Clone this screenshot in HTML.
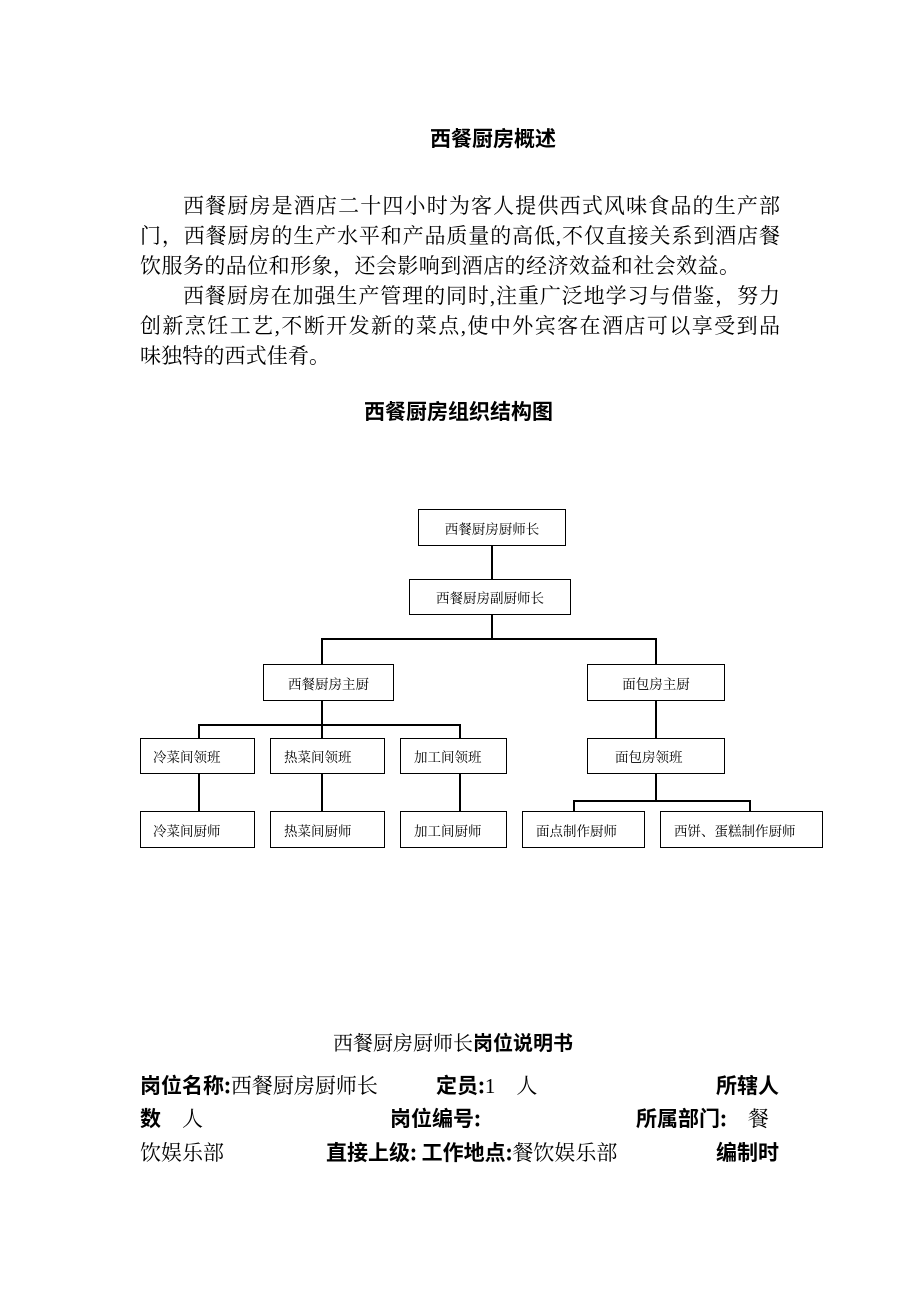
<!DOCTYPE html>
<html><head><meta charset="utf-8"><style>
body{margin:0;background:#fff;width:920px;height:1302px;position:relative;font-family:"Liberation Serif","Noto Serif CJK SC",serif;color:#000}
.t{position:absolute;white-space:nowrap}
.j{position:absolute;left:140px;width:640px;font-size:21px;text-align:justify;text-align-last:justify;white-space:nowrap;line-height:30px}
.b{position:absolute;border:1.5px solid #000;box-sizing:border-box;font-size:13.5px;display:flex;align-items:center;justify-content:center;background:#fff}
.l{position:absolute;background:#000}
.h{font-weight:bold;font-family:"Noto Sans CJK SC",sans-serif}
</style></head><body>
<div class="t h" style="left:430px;top:123px;font-size:21px">西餐厨房概述</div>
<div class="j" style="top:191px;left:183px;width:597px">西餐厨房是酒店二十四小时为客人提供西式风味食品的生产部</div>
<div class="j" style="top:221px">门，西餐厨房的生产水平和产品质量的高低,不仅直接关系到酒店餐</div>
<div class="j" style="top:251px;width:600px">饮服务的品位和形象，还会影响到酒店的经济效益和社会效益。</div>
<div class="j" style="top:281px;left:183px;width:597px">西餐厨房在加强生产管理的同时,注重广泛地学习与借鉴，努力</div>
<div class="j" style="top:311px">创新烹饪工艺,不断开发新的菜点,使中外宾客在酒店可以享受到品</div>
<div class="j" style="top:341px;width:190px">味独特的西式佳肴。</div>
<div class="t h" style="left:364px;top:396px;font-size:21px">西餐厨房组织结构图</div>

<div class="l" style="left:491px;top:546px;width:1.5px;height:33px"></div>
<div class="l" style="left:491px;top:615px;width:1.5px;height:23px"></div>
<div class="l" style="left:321px;top:638px;width:335px;height:1.5px"></div>
<div class="l" style="left:321px;top:638px;width:1.5px;height:26px"></div>
<div class="l" style="left:655px;top:638px;width:1.5px;height:26px"></div>
<div class="l" style="left:321px;top:701px;width:1.5px;height:37px"></div>
<div class="l" style="left:198px;top:724px;width:262px;height:1.5px"></div>
<div class="l" style="left:198px;top:724px;width:1.5px;height:14px"></div>
<div class="l" style="left:459px;top:724px;width:1.5px;height:14px"></div>
<div class="l" style="left:655px;top:701px;width:1.5px;height:37px"></div>
<div class="l" style="left:198px;top:774px;width:1.5px;height:37px"></div>
<div class="l" style="left:321px;top:774px;width:1.5px;height:37px"></div>
<div class="l" style="left:459px;top:774px;width:1.5px;height:37px"></div>
<div class="l" style="left:655px;top:774px;width:1.5px;height:26px"></div>
<div class="l" style="left:573px;top:800px;width:177px;height:1.5px"></div>
<div class="l" style="left:573px;top:800px;width:1.5px;height:11px"></div>
<div class="l" style="left:749px;top:800px;width:1.5px;height:11px"></div>

<div class="b" style="left:418px;top:509px;width:148px;height:37px">西餐厨房厨师长</div>
<div class="b" style="left:409px;top:579px;width:162px;height:36px">西餐厨房副厨师长</div>
<div class="b" style="left:263px;top:664px;width:131px;height:37px">西餐厨房主厨</div>
<div class="b" style="left:587px;top:664px;width:138px;height:37px">面包房主厨</div>
<div class="b" style="left:140px;top:738px;width:115px;height:36px;justify-content:flex-start;padding-left:12px">冷菜间领班</div>
<div class="b" style="left:270px;top:738px;width:115px;height:36px;justify-content:flex-start;padding-left:13px">热菜间领班</div>
<div class="b" style="left:400px;top:738px;width:107px;height:36px;justify-content:flex-start;padding-left:13px">加工间领班</div>
<div class="b" style="left:587px;top:738px;width:138px;height:36px;justify-content:flex-start;padding-left:27px">面包房领班</div>
<div class="b" style="left:140px;top:811px;width:115px;height:37px;justify-content:flex-start;padding-left:12px">冷菜间厨师</div>
<div class="b" style="left:270px;top:811px;width:115px;height:37px;justify-content:flex-start;padding-left:13px">热菜间厨师</div>
<div class="b" style="left:400px;top:811px;width:107px;height:37px;justify-content:flex-start;padding-left:13px">加工间厨师</div>
<div class="b" style="left:522px;top:811px;width:123px;height:37px;justify-content:flex-start;padding-left:13px">面点制作厨师</div>
<div class="b" style="left:660px;top:811px;width:163px;height:37px;justify-content:flex-start;padding-left:13px">西饼、蛋糕制作厨师</div>

<div class="t" style="left:333px;top:1027px;font-size:20px">西餐厨房厨师长<span class="h">岗位说明书</span></div>
<div class="t" style="left:140px;top:1070px;font-size:21px"><span class="h">岗位名称:</span>西餐厨房厨师长</div>
<div class="t" style="left:436px;top:1070px;font-size:21px"><span class="h">定员:</span>1　人</div>
<div class="t h" style="left:716px;top:1070px;font-size:21px">所辖人</div>
<div class="t" style="left:140px;top:1103px;font-size:21px"><span class="h">数</span>　人</div>
<div class="t h" style="left:390px;top:1103px;font-size:21px">岗位编号:</div>
<div class="t" style="left:636px;top:1103px;font-size:21px"><span class="h">所属部门:</span>　餐</div>
<div class="t" style="left:140px;top:1137px;font-size:21px">饮娱乐部</div>
<div class="t" style="left:326px;top:1137px;font-size:21px"><span class="h">直接上级:  工作地点:</span>餐饮娱乐部</div>
<div class="t h" style="left:716px;top:1137px;font-size:21px">编制时</div>
</body></html>
